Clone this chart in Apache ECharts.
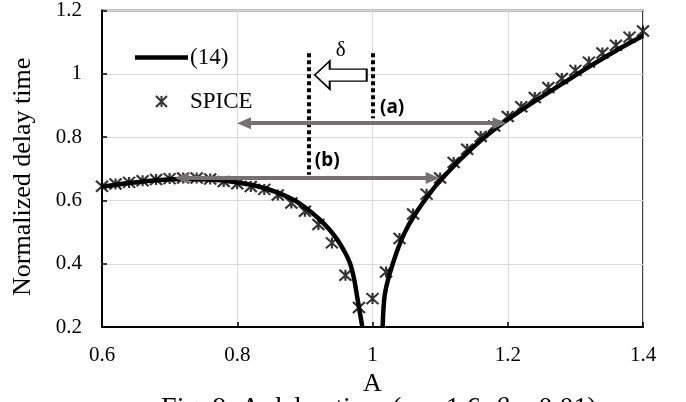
<!DOCTYPE html>
<html>
<head>
<meta charset="utf-8">
<script src="https://cdn.jsdelivr.net/npm/echarts@6/dist/echarts.min.js"></script>
<style>
  html, body { margin: 0; padding: 0; background: #fff; }
  #chart { width: 686px; height: 402px; }
</style>
</head>
<body>
<div id="chart"></div>
<script>
// SPICE points, A = 0.6 .. 1.4 step 0.02
const spiceA = [0.60, 0.62, 0.64, 0.66, 0.68, 0.70, 0.72, 0.74, 0.76, 0.78,
                0.80, 0.82, 0.84, 0.86, 0.88, 0.90, 0.92, 0.94, 0.96, 0.98,
                1.00, 1.02, 1.04, 1.06, 1.08, 1.10, 1.12, 1.14, 1.16, 1.18,
                1.20, 1.22, 1.24, 1.26, 1.28, 1.30, 1.32, 1.34, 1.36, 1.38, 1.40];
const spiceDelay = [0.645, 0.652, 0.657, 0.662, 0.666, 0.669, 0.671, 0.671, 0.668, 0.660,
                    0.653, 0.644, 0.635, 0.617, 0.592, 0.566, 0.524, 0.466, 0.364, 0.262,
                    0.290, 0.374, 0.480, 0.557, 0.620, 0.671, 0.720, 0.762, 0.802, 0.835,
                    0.865, 0.896, 0.925, 0.957, 0.985, 1.011, 1.037, 1.066, 1.090, 1.116, 1.135];

// eq. (14), two branches
const eqLeftA = [0.60, 0.64, 0.68, 0.72, 0.76, 0.80, 0.83, 0.86, 0.885, 0.91, 0.93, 0.945,
                 0.957, 0.967, 0.973, 0.977, 0.981, 0.985];
const eqLeftDelay = [0.643, 0.655, 0.664, 0.668, 0.666, 0.657, 0.645, 0.625, 0.600, 0.562, 0.523, 0.485,
                     0.445, 0.400, 0.350, 0.300, 0.250, 0.200];
const eqRightA = [1.015, 1.016, 1.018, 1.023, 1.03, 1.038, 1.048, 1.061, 1.077, 1.095, 1.12, 1.14,
                  1.16, 1.18, 1.20, 1.24, 1.28, 1.32, 1.36, 1.40];
const eqRightDelay = [0.200, 0.250, 0.300, 0.350, 0.400, 0.450, 0.500, 0.550, 0.600, 0.650, 0.708, 0.750,
                      0.789, 0.824, 0.856, 0.914, 0.968, 1.022, 1.073, 1.120];

// axes: [min, max, interval]
const xRange = [0.6, 1.4, 0.2];
const yRange = [0.2, 1.2, 0.2];

// annotations (data space)
const dottedLines = [[[0.905, 1.065], [0.905, 0.681]], [[1.0, 1.065], [1.0, 0.860]]];
const grayArrows = [[[0.810, 0.844], [1.188, 0.844]], [[0.718, 0.671], [1.089, 0.671]]];
const labelPoints = [['δ', 0.953, 1.074], ['(a)', 1.029, 0.892], ['(b)', 0.933, 0.725]];
const hollowArrow = [0.953, 0.996];

const zip = (xs, ys) => xs.map((x, i) => [x, ys[i]]);

const serif = '"Liberation Serif", "Times New Roman", serif';
const starPath = 'path://M0,0L10,10M10,0L0,10M5,0L5,10';

let chart = echarts.init(document.getElementById('chart'));

let eqLine = (data) => ({
  type: 'line',
  name: '(14)',
  data: data,
  symbol: 'none',
  smooth: 0.3,
  lineStyle: { color: '#000', width: 4.5 },
  itemStyle: { color: '#000' },
  z: 2
});

let labelData = labelPoints.map((p) => ({
  coord: [p[1], p[2]],
  symbol: 'rect',
  symbolSize: 1,
  itemStyle: { color: 'rgba(0,0,0,0)' },
  label: {
    show: true,
    position: 'inside',
    formatter: p[0],
    color: '#000',
    fontSize: p[0] === 'δ' ? 21 : 19,
    fontWeight: p[0] === 'δ' ? 'normal' : 'bold',
    fontFamily: p[0] === 'δ' ? serif : '"Noto Sans", "Liberation Sans", sans-serif'
  }
}));

let option = {
  animation: false,
  grid: {
    left: 102, right: 43, top: 10, bottom: 74,
    show: true, borderColor: '#000', borderWidth: 1.5
  },
  legend: {
    data: [
      { name: '(14)', icon: 'path://M0,0H53V4.5H0Z' },
      { name: 'SPICE' }
    ],
    orient: 'vertical',
    left: 135,
    top: 46,
    padding: 0,
    itemWidth: 53,
    itemHeight: 11,
    itemGap: 21,
    textStyle: { fontFamily: serif, fontSize: 23, color: '#000', padding: [0, 0, 0, -3] }
  },
  xAxis: {
    type: 'value',
    min: xRange[0], max: xRange[1], interval: xRange[2],
    name: 'A',
    nameLocation: 'middle',
    nameGap: 41,
    nameTextStyle: { fontFamily: serif, fontSize: 26, color: '#000' },
    axisLine: { lineStyle: { color: '#000', width: 2 } },
    axisTick: { show: true, inside: true, length: 5, lineStyle: { color: '#000', width: 1.5 } },
    axisLabel: { fontFamily: serif, fontSize: 21, color: '#000', margin: 18 },
    splitLine: { lineStyle: { color: '#d9d9d9', width: 1 } }
  },
  yAxis: {
    type: 'value',
    min: yRange[0], max: yRange[1], interval: yRange[2],
    name: 'Normalized delay time',
    nameLocation: 'middle',
    nameGap: 66,
    nameTextStyle: { fontFamily: serif, fontSize: 26, color: '#000', padding: [0, 16, 0, 0] },
    axisLine: { show: true, lineStyle: { color: '#000', width: 2 } },
    axisTick: { show: true, inside: true, length: 5, lineStyle: { color: '#000', width: 1.5 } },
    axisLabel: { fontFamily: serif, fontSize: 21, color: '#000', margin: 20 },
    splitLine: { lineStyle: { color: '#d9d9d9', width: 1 } }
  },
  series: [
    eqLine(zip(eqLeftA, eqLeftDelay)),
    eqLine(zip(eqRightA, eqRightDelay)),
    {
      type: 'scatter',
      name: 'SPICE',
      data: zip(spiceA, spiceDelay),
      symbol: starPath,
      symbolSize: [12, 11],
      itemStyle: { color: '#000', borderColor: '#000', borderWidth: 2.1 },
      z: 3
    },
    {
      type: 'line',
      name: 'notes',
      data: [],
      z: 4,
      markLine: {
        silent: true,
        animation: false,
        label: { show: false },
        data: [
          ...dottedLines.map((l) => [
            { coord: l[0], symbol: 'none', lineStyle: { color: '#000', width: 4, type: [4, 3], cap: 'butt' } },
            { coord: l[1], symbol: 'none' }
          ]),
          ...grayArrows.map((l) => [
            { coord: l[0], symbol: 'triangle', symbolSize: [12, 14], lineStyle: { color: '#767171', width: 4, type: 'solid' }, itemStyle: { color: '#767171' } },
            { coord: l[1], symbol: 'triangle', symbolSize: [12, 14] }
          ])
        ]
      },
      markPoint: {
        silent: true,
        animation: false,
        data: [
          {
            coord: hollowArrow,
            symbol: 'path://M0,14L15,0L15,8L52,8L52,20L15,20L15,28Z',
            symbolSize: [52, 28],
            itemStyle: { color: '#fff', borderColor: '#000', borderWidth: 1.5 },
            label: { show: false }
          },
          ...labelData
        ]
      }
    }
  ],
  graphic: [
    {
      type: 'text',
      x: 379,
      y: 395,
      style: {
        text: 'Fig. 9. A delay time ({i|α} = 1.6, {i|β} = 0.01)',
        font: '28px ' + serif,
        fill: '#000',
        align: 'center',
        verticalAlign: 'top',
        rich: { i: { fontStyle: 'italic', fontSize: 28, fontFamily: serif } }
      }
    }
  ]
};

chart.setOption(option);
</script>
</body>
</html>
